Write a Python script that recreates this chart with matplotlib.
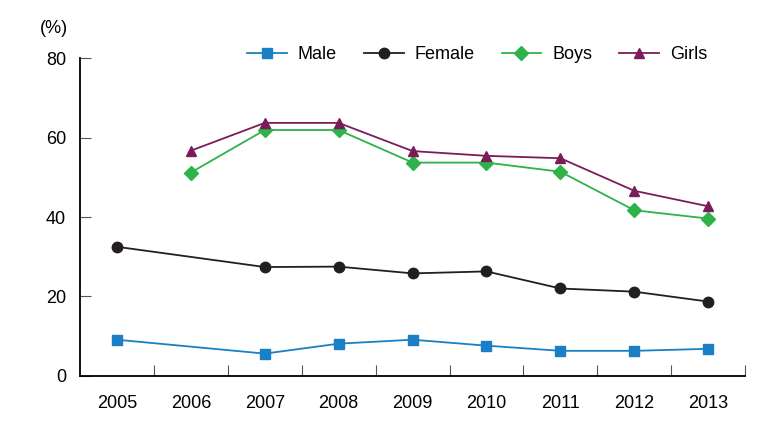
import numpy as np
import matplotlib
matplotlib.use("Agg")
import matplotlib.pyplot as plt

plt.rcParams['font.family'] = ['Liberation Sans', 'DejaVu Sans']

years = ["2005", "2006", "2007", "2008", "2009", "2010", "2011", "2012", "2013"]

# nan where the series has no value
male = [9.1, np.nan, 5.6, 8.1, 9.1, 7.6, 6.3, 6.3, 6.8]
female = [32.5, np.nan, 27.4, 27.5, 25.8, 26.3, 22.0, 21.2, 18.7]
boys = [np.nan, 51.2, 61.9, 61.9, 53.7, 53.7, 51.4, 41.7, 39.6]
girls = [np.nan, 56.7, 63.7, 63.7, 56.6, 55.4, 54.8, 46.6, 42.7]

x = np.arange(len(years))

def connect(vals):
    # lines skip the missing years, so draw only the valid points
    v = np.array(vals)
    m = ~np.isnan(v)
    return x[m], v[m]

fig = plt.figure(figsize=(7.69, 4.34), dpi=100)
ax = fig.add_axes([0.104, 0.134, 0.865, 0.732])

series = [
    ("Male", male, "#1a7fc4", "s", 7.5),
    ("Female", female, "#231f20", "o", 7.5),
    ("Boys", boys, "#2db34a", "D", 7),
    ("Girls", girls, "#7b1c5a", "^", 7.5),
]
for name, vals, col, mk, ms in series:
    xs, ys = connect(vals)
    ax.plot(xs, ys, color=col, marker=mk, markersize=ms, linewidth=1.3, label=name)

ax.set_xlim(-0.5, len(years) - 0.5)
ax.set_ylim(0, 80)
ax.set_yticks([0, 20, 40, 60, 80])
ax.set_xticks(x)
ax.set_xticklabels(years)
ax.set_xticks(np.arange(0.5, len(years) - 0.4, 1), minor=True)

ax.spines['top'].set_visible(False)
ax.spines['right'].set_visible(False)
ax.spines['left'].set_linewidth(1.3)
ax.spines['bottom'].set_linewidth(1.3)
ax.tick_params(axis='y', direction='in', length=8, width=0.8, color='#555555',
               labelsize=13, pad=10)
ax.tick_params(axis='x', which='major', length=0, labelsize=13, pad=14)
ax.tick_params(axis='x', which='minor', direction='in', length=8, width=0.8, color='#555555')

fig.text(0.052, 0.935, "(%)", fontsize=13, ha='left', va='center')

ax.legend(loc='center', bbox_to_anchor=(0.597, 1.01), ncol=4, frameon=False,
          fontsize=13, handlelength=2.2, columnspacing=1.5, handletextpad=0.6,
          borderpad=0, borderaxespad=0)

fig.savefig("out.png", dpi=100)
